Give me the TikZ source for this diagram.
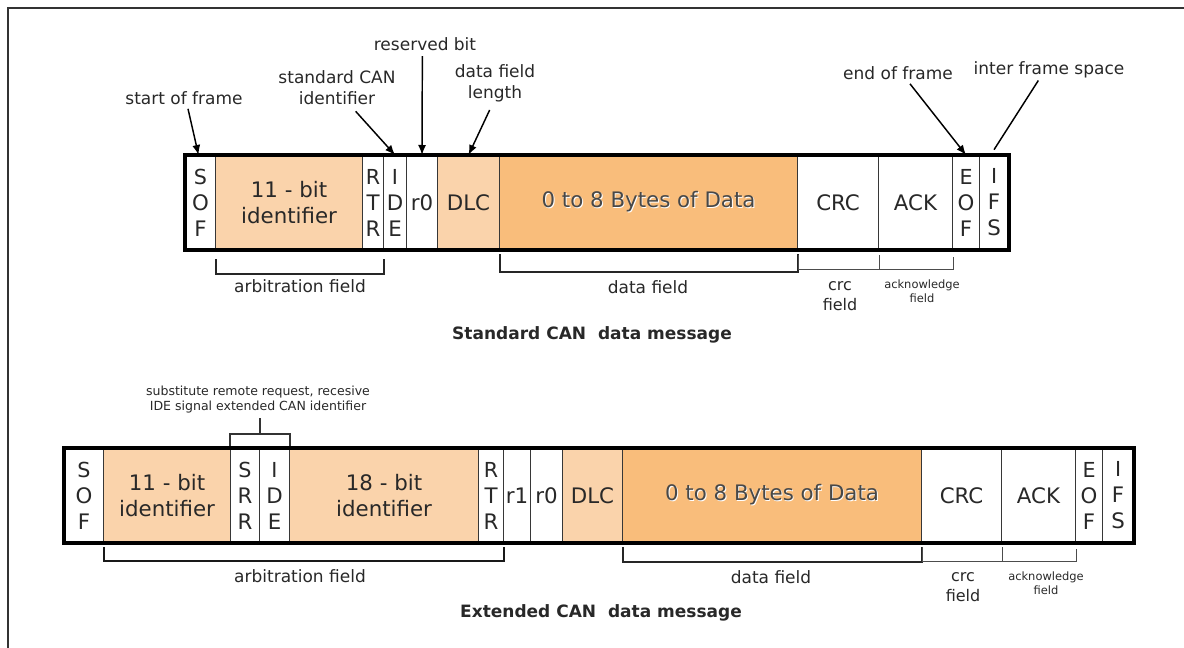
\documentclass[tikz,border=0pt]{standalone}
\usepackage{fontspec}
\setmainfont{DejaVu Sans}
\usetikzlibrary{arrows.meta,calc}
\definecolor{peach}{RGB}{250,211,171}
\definecolor{dataorange}{RGB}{249,189,123}
\definecolor{divider}{RGB}{55,55,55}
\definecolor{inktext}{RGB}{40,40,40}

% one field of a CAN frame: name, left x, right x, top y, fill, text
\newcommand\cancell[6]{%
  \pgfmathsetlengthmacro\cancellwidth{(#3-#2)*0.75pt}%
  \node[cellbox, fill=#5, minimum width=\cancellwidth, anchor=north west] (#1) at (#2,#4) {#6};}
% payload text with a light emboss
\newcommand\embossed[1]{\makebox[0pt][l]{\hspace{0.7pt}\raisebox{-0.7pt}{\textcolor{white}{#1}}}\textcolor{inktext!85}{#1}}
% letters stacked in a narrow field
\newcommand\stacked[3]{\fontsize{15.5}{17.2}\selectfont #1\\#2\\#3}

\begin{document}
\begin{tikzpicture}[x=0.75pt,y=-0.75pt,
  cellbox/.style={draw=divider, line width=0.8pt, inner sep=0pt, minimum height=70.5pt,
    font=\fontsize{16}{19.5}\selectfont, align=center, text=inktext},
  frameline/.style={line width=2.6pt, line join=miter},
  callout/.style={font=\fontsize{12.75}{15.75}\selectfont, align=center, inner sep=0pt, text=inktext},
  pointer/.style={line width=1.1pt, -{Latex[length=7.5pt,width=6pt]}},
  bracket/.style={line width=1.1pt, draw=black!85},
  thickbracket/.style={line width=1.5pt, draw=black!90},
  thinbracket/.style={line width=0.8pt, draw=black!70},
  fieldlabel/.style={font=\fontsize{12.75}{15}\selectfont, align=center, inner sep=0pt, text=inktext},
  crclabel/.style={font=\fontsize{12}{15}\selectfont, align=center, inner sep=0pt, text=inktext},
  smalllabel/.style={font=\fontsize{8.6}{10.5}\selectfont, align=center, inner sep=0pt, text=inktext},
  notelabel/.style={font=\fontsize{9.4}{11.3}\selectfont, align=center, inner sep=0pt, text=inktext},
  title/.style={font=\bfseries\fontsize{12.75}{15}\selectfont, inner sep=0pt, text=inktext},
]
\useasboundingbox (0,0) rectangle (1184,648);

% page frame (top and left edges)
\draw[line width=1.6pt, draw=black!80] (8,648) -- (8,8) -- (1184,8);

% ---------------- standard CAN data frame ----------------
\cancell{sof}{185}{215}{155}{white}{\stacked{S}{O}{F}}
\cancell{idA}{215}{362}{155}{peach}{11 - bit\\identifier}
\cancell{rtr}{362}{383}{155}{white}{\stacked{R}{T}{R}}
\cancell{ide}{383}{406}{155}{white}{\stacked{I}{D}{E}}
\cancell{rzero}{406}{437}{155}{white}{r0}
\cancell{dlc}{437}{499}{155}{peach}{DLC}
\cancell{data}{499}{797}{155}{dataorange}{\embossed{0 to 8 Bytes of Data}}
\cancell{crc}{797}{878}{155}{white}{CRC}
\cancell{ack}{878}{952}{155}{white}{ACK}
\cancell{eof}{952}{979}{155}{white}{\stacked{E}{O}{F}}
\cancell{ifs}{979}{1008}{155}{white}{\stacked{I}{F}{S}}
\draw[frameline] (sof.north west) rectangle (ifs.south east);

% callouts above the standard frame
\node[callout] (lsof) at (184,98) {start of frame};
\node[callout] (lid)  at (337,88) {standard CAN\\identifier};
\node[callout] (lres) at (425,44) {reserved bit};
\node[callout] (ldfl) at (495,83) {data field\\length};
\node[callout] (leof) at (898,73) {end of frame};
\node[callout] (lifs) at (1049,70) {inter frame space};

\draw[pointer] ([xshift=3pt,yshift=-3pt]lsof.south) -- ([xshift=-1.5pt]sof.north);
\draw[pointer] ([xshift=14pt,yshift=-4.5pt]lid.south) -- (ide.north);
\draw[pointer] ([xshift=-2pt,yshift=-4pt]lres.south) -- (rzero.north);
\draw[pointer] ([xshift=-4pt,yshift=-6pt]ldfl.south) -- (dlc.north);
\draw[pointer] ([xshift=9pt,yshift=-3pt]leof.south) -- (eof.north);
\draw[line width=1.1pt] ([xshift=-8pt,yshift=-1.5pt]lifs.south) -- ([yshift=4pt]ifs.north);

% field brackets below the standard frame
\draw[bracket] ($(sof.south east)+(0,9)$) -- ++(0,15) -| ($(rtr.south east)+(0,9)$);
\draw[bracket] ($(dlc.south east)+(0,4)$) -- ++(0,18) -| ($(data.south east)+(0,4)$);
\draw[thinbracket] ($(data.south east)+(0,5)$) -- ++(0,14) -| ($(crc.south east)+(0,5)$);
\draw[thinbracket] ($(crc.south east)+(0,7)$) -- ++(0,12) -| ($(ack.south east)+(0,7)$);

\node[fieldlabel] (farbA) at (300,286) {arbitration field};
\node[fieldlabel] (fdataA) at (648,287) {data field};
\node[crclabel] (fcrcA) at (840,296) {crc\\field};
\node[smalllabel] (fackA) at (922,291) {acknowledge\\field};
\node[title] (titleA) at (592,335) {Standard CAN\hspace{0.35em} data message};

% ---------------- extended CAN data frame ----------------
\cancell{sofB}{64}{103}{448}{white}{\stacked{S}{O}{F}}
\cancell{idB}{103}{230}{448}{peach}{11 - bit\\identifier}
\cancell{srr}{230}{259}{448}{white}{\stacked{S}{R}{R}}
\cancell{ideB}{259}{289}{448}{white}{\stacked{I}{D}{E}}
\cancell{idC}{289}{478}{448}{peach}{18 - bit\\identifier}
\cancell{rtrB}{478}{503}{448}{white}{\stacked{R}{T}{R}}
\cancell{rone}{503}{530}{448}{white}{r1}
\cancell{rzeroB}{530}{562}{448}{white}{r0}
\cancell{dlcB}{562}{622}{448}{peach}{DLC}
\cancell{dataB}{622}{921}{448}{dataorange}{\embossed{0 to 8 Bytes of Data}}
\cancell{crcB}{921}{1001}{448}{white}{CRC}
\cancell{ackB}{1001}{1075}{448}{white}{ACK}
\cancell{eofB}{1075}{1102}{448}{white}{\stacked{E}{O}{F}}
\cancell{ifsB}{1102}{1133}{448}{white}{\stacked{I}{F}{S}}
\draw[frameline] (sofB.north west) rectangle (ifsB.south east);

% note above SRR and IDE
\node[notelabel] (lsrr) at (258,400) {substitute remote request, recesive\\IDE signal extended CAN identifier};
\draw[thinbracket, draw=black!80, line width=0.9pt] ($(srr.north west)+(0,-2)$) -- ++(0,-12) -| ($(ideB.north east)+(0,-2)$);
\draw[thinbracket, draw=black!80, line width=0.9pt] ($(srr.north east)+(0,-14)$) -- ([yshift=-3pt]srr.north east |- lsrr.south);

% field brackets below the extended frame
\draw[thickbracket] ($(sofB.south east)+(0,4)$) -- ++(0,14) -| ($(rtrB.south east)+(0,4)$);
\draw[bracket] ($(dlcB.south east)+(0,4)$) -- ++(0,15) -| ($(dataB.south east)+(0,4)$);
\draw[thinbracket] ($(dataB.south east)+(0,4)$) -- ++(0,14) -| ($(crcB.south east)+(0,4)$);
\draw[thinbracket] ($(crcB.south east)+(0,6)$) -- ++(0,12) -| ($(ackB.south east)+(0,6)$);

\node[fieldlabel] (farbB) at (300,576) {arbitration field};
\node[fieldlabel] (fdataB) at (771,577) {data field};
\node[crclabel] (fcrcB) at (963,587) {crc\\field};
\node[smalllabel] (fackB) at (1046,583) {acknowledge\\field};
\node[title] (titleB) at (601,613) {Extended CAN\hspace{0.35em} data message};
\end{tikzpicture}
\end{document}
